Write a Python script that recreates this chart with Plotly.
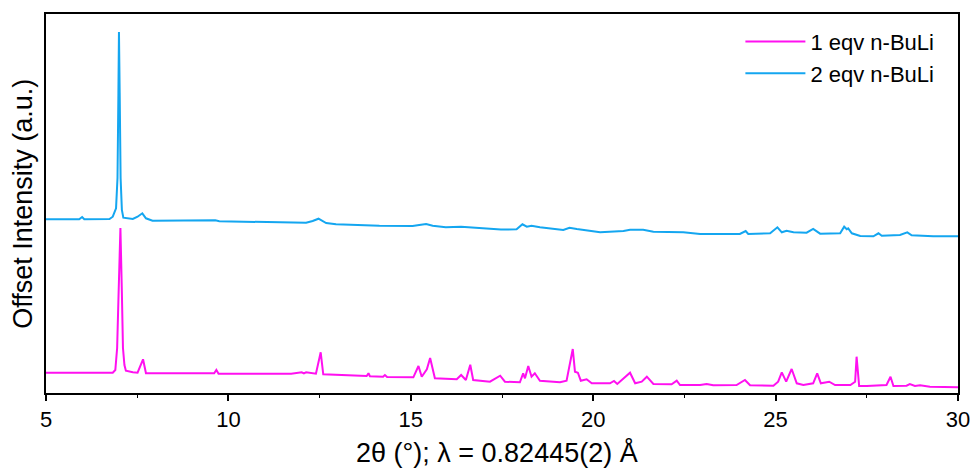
import plotly.graph_objects as go

# Powder diffraction patterns (2-theta in degrees, intensity in arbitrary units)
two_theta_1eq = [
    5.00, 6.83, 6.90, 6.95, 6.99, 7.04, 7.08, 7.11, 7.15, 7.19, 7.38, 7.51, 7.66, 7.74,
    9.61, 9.67, 9.73, 11.72, 12.01, 12.07, 12.13, 12.40, 12.53, 12.60, 13.79, 13.84,
    13.88, 14.24, 14.29, 14.35, 15.07, 15.21, 15.30, 15.44, 15.53, 15.66, 16.26, 16.38,
    16.51, 16.63, 16.71, 17.17, 17.45, 17.58, 17.99, 18.08, 18.13, 18.22, 18.31, 18.40,
    18.54, 19.09, 19.27, 19.44, 19.50, 19.58, 19.66, 19.82, 19.96, 20.46, 20.57, 20.66,
    21.01, 21.15, 21.33, 21.47, 21.65, 22.15, 22.29, 22.38, 22.93, 23.11, 23.29, 23.93,
    24.16, 24.30, 24.94, 25.07, 25.17, 25.29, 25.44, 25.58, 25.76, 26.03, 26.14, 26.24,
    26.47, 26.63, 27.05, 27.18, 27.22, 27.29, 27.50, 28.04, 28.15, 28.23, 28.59, 28.68,
    28.82, 28.96, 29.23, 29.97, 30.00,
]
intensity_1eq = [
    20.3, 20.3, 23.0, 45.0, 100.0, 165.0, 100.0, 45.0, 28.0, 22.3, 20.7, 20.3, 33.7, 19.7,
    19.7, 23.0, 19.3, 19.3, 20.7, 19.7, 20.7, 19.3, 40.7, 18.7, 17.0, 19.7,
    16.7, 16.3, 18.0, 16.0, 15.7, 27.0, 16.3, 23.7, 35.0, 14.7, 13.7, 18.0,
    13.0, 28.3, 13.0, 11.3, 17.3, 11.3, 10.7, 19.7, 14.7, 27.0, 16.3, 19.7,
    12.3, 10.7, 12.3, 44.0, 21.3, 20.3, 12.3, 13.7, 9.7, 9.7, 12.0, 9.0,
    20.3, 9.7, 11.3, 16.3, 9.0, 8.7, 12.3, 8.0, 8.0, 9.0, 7.7, 8.0,
    13.0, 7.7, 7.3, 11.3, 20.7, 11.3, 24.0, 9.7, 8.0, 9.7, 19.7, 9.7,
    11.3, 8.0, 8.0, 11.3, 36.3, 7.0, 7.0, 8.0, 16.3, 7.0, 7.3, 9.0,
    7.0, 7.7, 6.3, 5.7, 5.7,
]

two_theta_2eq = [
    5.00, 5.91, 5.99, 6.05, 6.74, 6.83, 6.92, 6.96, 6.985, 7.00, 7.02, 7.045, 7.08, 7.12,
    7.38, 7.51, 7.64, 7.74, 7.92, 9.57, 9.64, 9.75, 11.40, 12.13, 12.31, 12.47, 12.68,
    12.95, 14.14, 15.05, 15.23, 15.42, 15.60, 15.96, 16.38, 16.88, 17.47, 17.90, 18.06,
    18.18, 18.31, 18.54, 19.18, 19.35, 19.55, 20.19, 20.83, 21.01, 21.37, 21.65, 22.47,
    22.93, 24.02, 24.18, 24.25, 24.85, 25.05, 25.17, 25.30, 25.49, 25.85, 26.03, 26.22,
    26.77, 26.88, 26.95, 26.99, 27.09, 27.32, 27.68, 27.82, 27.91, 28.41, 28.61, 28.73,
    29.32, 30.00,
]
intensity_2eq = [
    23.7, 23.7, 26.0, 23.7, 24.0, 26.3, 34.7, 65.0, 150.0, 211.0, 150.0, 65.0, 33.0, 25.3,
    24.0, 26.3, 29.7, 24.7, 22.3, 22.0, 22.7, 21.7, 20.3, 20.3, 22.0, 24.3, 20.0,
    18.7, 17.3, 17.0, 18.0, 19.0, 17.3, 15.7, 16.3, 14.7, 13.5, 13.7, 18.7,
    16.3, 17.3, 15.7, 13.0, 15.3, 14.0, 10.7, 12.0, 13.3, 13.3, 11.3, 10.7,
    9.0, 9.0, 12.0, 9.0, 9.7, 15.7, 10.7, 12.3, 10.7, 10.3, 14.0, 9.3,
    9.7, 16.3, 13.7, 14.7, 9.7, 7.0, 6.7, 9.7, 7.3, 8.0, 10.7, 7.7,
    6.7, 6.7,
]

# Vertical offset applied to the second pattern
offset_2eq = 150.0

labels = ["1 eqv n-BuLi", "2 eqv n-BuLi"]
colors = ["#FF10F0", "#14A6F0"]

fig = go.Figure()
fig.add_trace(go.Scatter(
    x=two_theta_1eq, y=intensity_1eq, mode="lines", name=labels[0],
    line=dict(color=colors[0], width=2),
))
fig.add_trace(go.Scatter(
    x=two_theta_2eq, y=[v + offset_2eq for v in intensity_2eq], mode="lines", name=labels[1],
    line=dict(color=colors[1], width=2),
))

font_family = "Liberation Sans, Arial, sans-serif"

fig.update_layout(
    width=971, height=471,
    margin=dict(l=46, r=13, t=14, b=78),
    paper_bgcolor="white", plot_bgcolor="white",
    font=dict(family=font_family, color="black"),
    showlegend=True,
    legend=dict(
        x=0.7614, y=0.982, xanchor="left", yanchor="top",
        bgcolor="rgba(0,0,0,0)", font=dict(size=22, family=font_family),
        itemwidth=60, tracegroupgap=0,
    ),
    xaxis=dict(
        range=[5, 30], dtick=5, tick0=5, automargin=False,
        showline=True, linecolor="black", linewidth=1.5, mirror=True,
        ticks="outside", ticklen=6, tickwidth=1.5, tickcolor="black",
        minor=dict(ticks="outside", dtick=2.5, tick0=5, ticklen=3, tickwidth=1.2, tickcolor="black"),
        showgrid=False, zeroline=False,
        tickfont=dict(size=22, family=font_family),
    ),
    yaxis=dict(
        range=[0, 379], automargin=False,
        showline=True, linecolor="black", linewidth=1.5, mirror=True,
        ticks="", showticklabels=False, showgrid=False, zeroline=False,
    ),
    annotations=[
        dict(
            text="2θ (°); λ = 0.82445(2) Å", xref="paper", yref="paper",
            x=0.4945, y=-0.158, xanchor="center", yanchor="middle",
            showarrow=False, font=dict(size=27, family=font_family),
        ),
        dict(
            text="Offset Intensity (a.u.)", xref="paper", yref="paper",
            x=-0.026, y=0.5, xanchor="center", yanchor="middle", textangle=-90,
            showarrow=False, font=dict(size=27, family=font_family),
        ),
    ],
)

fig.write_html("out.html")
